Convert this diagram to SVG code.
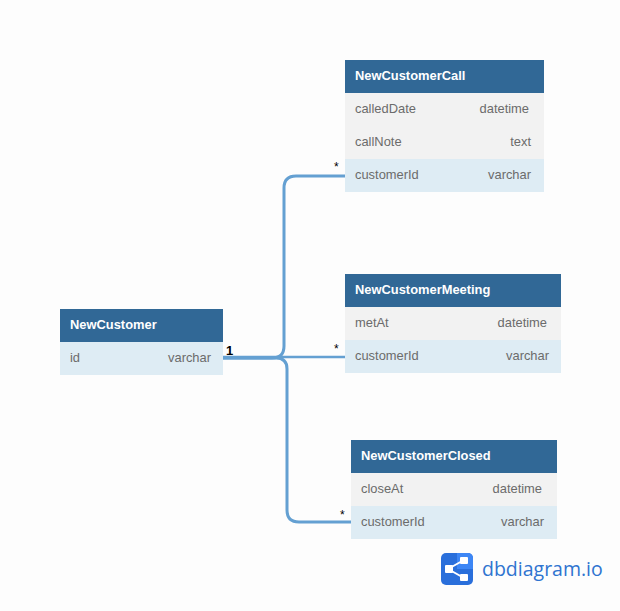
<svg xmlns="http://www.w3.org/2000/svg" width="620" height="611" viewBox="0 0 620 611">
<style>
text{font-family:"Liberation Sans",Arial,sans-serif;font-size:12.9px;fill:#6b6b6b}
.h{fill:#316896}.g{fill:#f2f2f2}.b{fill:#deecf4}
.t{font-weight:700;fill:#fff;font-size:12.9px}
.e{text-anchor:end}
.c{fill:none;stroke:#64a0d2;stroke-width:3}
.m{fill:#000;font-size:12px}
.one{fill:#000;font-size:13px;font-weight:700}
</style>
<rect width="620" height="611" fill="#fdfdfd"/>
<g id="connectors">
<path class="c" d="M222 358H272Q284 358 284 346V188Q284 176 296 176H345"/>
<path class="c" d="M222 357H345" style="stroke-width:2.5"/>
<path class="c" d="M222 358H276Q287 358 287 369V510Q287 522 299 522H351"/>
<text class="m" x="334" y="171">*</text>
<text class="m" x="334" y="353">*</text>
<text class="m" x="340" y="519">*</text>
<text class="one" x="226" y="355">1</text>
</g>
<g id="NewCustomer">
<rect class="h" x="60" y="309" width="163" height="33"/>
<rect class="b" x="60" y="342" width="163" height="33"/>
<text class="t" x="70" y="329">NewCustomer</text>
<text x="70" y="362">id</text>
<text class="e" x="211" y="362">varchar</text>
</g>
<g id="NewCustomerCall">
<rect class="h" x="345" y="60" width="199" height="33"/>
<rect class="g" x="345" y="93" width="199" height="66"/>
<rect class="b" x="345" y="159" width="199" height="33"/>
<text class="t" x="355" y="80">NewCustomerCall</text>
<text x="355" y="113">calledDate</text>
<text class="e" x="529" y="113">datetime</text>
<text x="355" y="146">callNote</text>
<text class="e" x="531" y="146">text</text>
<text x="355" y="179">customerId</text>
<text class="e" x="531" y="179">varchar</text>
</g>
<g id="NewCustomerMeeting">
<rect class="h" x="345" y="274" width="216" height="33"/>
<rect class="g" x="345" y="307" width="216" height="33"/>
<rect class="b" x="345" y="340" width="216" height="33"/>
<text class="t" x="355" y="294">NewCustomerMeeting</text>
<text x="355" y="327">metAt</text>
<text class="e" x="547" y="327">datetime</text>
<text x="355" y="360">customerId</text>
<text class="e" x="549" y="360">varchar</text>
</g>
<g id="NewCustomerClosed">
<rect class="h" x="351" y="440" width="206" height="33"/>
<rect class="g" x="351" y="473" width="206" height="33"/>
<rect class="b" x="351" y="506" width="206" height="33"/>
<text class="t" x="361" y="460">NewCustomerClosed</text>
<text x="361" y="493">closeAt</text>
<text class="e" x="542" y="493">datetime</text>
<text x="361" y="526">customerId</text>
<text class="e" x="544" y="526">varchar</text>
</g>
<g id="logo">
<rect x="441" y="553" width="32" height="32" rx="5" fill="#2a6fdb"/>
<path d="M457 553h11a5 5 0 0 1 5 5v11h-16z" fill="#3d86f5"/>
<path d="M448 569L464 560M448 569L464 578" stroke="#fff" stroke-width="2" fill="none"/>
<rect x="445" y="565" width="8" height="8" rx="1" fill="#fff"/>
<rect x="460" y="557" width="8" height="7" rx="1" fill="#fff"/>
<rect x="460" y="574" width="8" height="7" rx="1" fill="#fff"/>
<text x="482" y="576" style="font-family:'Open Sans','Liberation Sans',sans-serif;font-size:19.5px;fill:#2f74d0">dbdiagram.io</text>
</g>
</svg>
